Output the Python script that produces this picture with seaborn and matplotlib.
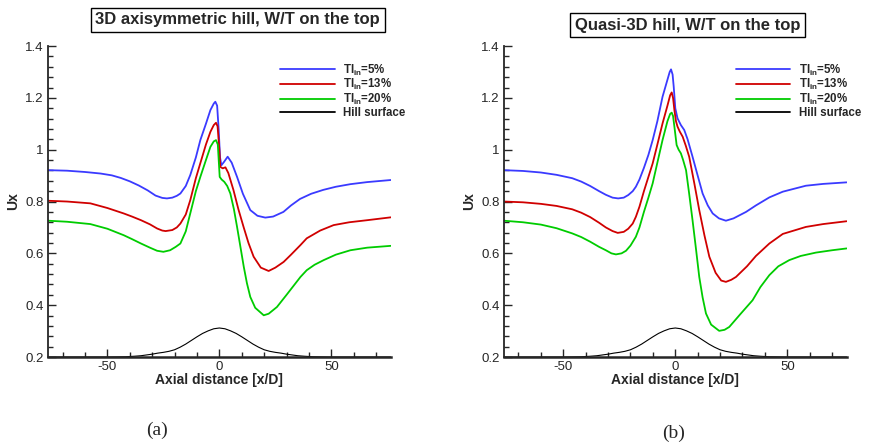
import numpy as np
import pandas as pd
import matplotlib
matplotlib.use("Agg")
import matplotlib.pyplot as plt
from matplotlib.ticker import MultipleLocator, FuncFormatter
import seaborn as sns

# ---- data ----
# (a) 3D axisymmetric hill
xa_ti5 = [-76.5, -68, -60, -53, -48, -44, -40, -36, -32, -28.5, -25.5, -23.4, -21, -19, -17.4, -15, -13, -10.5,
          -8.5, -6, -4, -2.5, -1.8, -1, -0.3, 0.3, 0.9, 2, 3.7, 5.5, 7.9, 10.5, 13.8, 17, 20.5, 24, 28.6, 32, 36, 41,
          46.4, 52, 58.5, 66, 76.5]
ya_ti5 = [0.921, 0.919, 0.914, 0.908, 0.901, 0.891, 0.878, 0.862, 0.843, 0.823, 0.814, 0.812, 0.815, 0.822, 0.831,
          0.86, 0.902, 0.97, 1.037, 1.10, 1.153, 1.178, 1.185, 1.17, 1.076, 0.97, 0.94, 0.952, 0.973, 0.95, 0.895,
          0.83, 0.767, 0.745, 0.738, 0.742, 0.76, 0.785, 0.81, 0.83, 0.845, 0.857, 0.867, 0.875, 0.883]

xa_ti13 = [-76.5, -68, -57.6, -50, -42.7, -39, -35, -31, -27.8, -25.5, -24, -21, -19, -17.4, -15, -13, -10.5, -8.5,
           -6, -4, -2.5, -1.5, -0.8, 0, 0.4, 1.5, 2.7, 4, 6.3, 8.5, 10.8, 13, 15.3, 18.5, 22, 25, 28.7, 32, 36.2, 39,
           45, 51, 58, 66, 76.5]
ya_ti13 = [0.803, 0.80, 0.793, 0.775, 0.754, 0.742, 0.728, 0.712, 0.696, 0.688, 0.686, 0.69, 0.70, 0.715, 0.75,
           0.805, 0.89, 0.948, 1.02, 1.069, 1.095, 1.104, 1.09, 1.0, 0.934, 0.928, 0.932, 0.91, 0.844, 0.77, 0.702,
           0.64, 0.587, 0.545, 0.532, 0.545, 0.567, 0.595, 0.632, 0.658, 0.688, 0.709, 0.72, 0.728, 0.739]

xa_ti20 = [-76.5, -68, -57.6, -50, -42.7, -39, -35, -31, -27.8, -25, -22, -19.5, -17.4, -15, -13, -10.5, -8.5, -6,
           -4, -2.5, -1.5, -0.7, 0.15, 1, 2.2, 3.5, 4.9, 6.5, 7.9, 9.5, 10.9, 12.3, 13.8, 16, 19.8, 22, 25.7, 30,
           36.2, 39, 42.5, 46.6, 52, 58.5, 66, 76.5]
ya_ti20 = [0.726, 0.722, 0.713, 0.695, 0.67, 0.655, 0.638, 0.622, 0.61, 0.606, 0.612, 0.625, 0.638, 0.685, 0.754,
           0.84, 0.895, 0.96, 1.011, 1.032, 1.037, 1.02, 0.895, 0.885, 0.876, 0.86, 0.831, 0.77, 0.702, 0.62, 0.548,
           0.485, 0.432, 0.39, 0.361, 0.367, 0.393, 0.44, 0.509, 0.535, 0.556, 0.574, 0.595, 0.612, 0.622, 0.629]

# (b) Quasi-3D hill
xb_ti5 = [-76.5, -68, -60, -53, -46, -42, -38, -34, -31, -28, -25.5, -23, -21, -19, -17.6, -16, -14, -12, -10.1, -8,
          -5.7, -3.5, -2.5, -1.9, -1.2, -0.7, 0, 1, 2.5, 4, 5.5, 7.7, 10, 12.2, 14.5, 16.7, 19.5, 22.6, 26, 31.6, 36,
          42, 48, 58.3, 66, 76.5]
yb_ti5 = [0.921, 0.918, 0.912, 0.903, 0.89, 0.877, 0.86, 0.84, 0.826, 0.815, 0.812, 0.815, 0.825, 0.84, 0.857,
          0.885, 0.93, 0.98, 1.037, 1.11, 1.204, 1.27, 1.30, 1.31, 1.29, 1.243, 1.16, 1.121, 1.095, 1.076, 1.04,
          0.973, 0.9, 0.831, 0.785, 0.754, 0.735, 0.726, 0.735, 0.76, 0.785, 0.816, 0.838, 0.861, 0.868, 0.874]

xb_ti13 = [-76.5, -68, -60, -53, -46, -42, -38, -34, -31, -28, -25.7, -23, -21, -19, -17.6, -16, -14, -12, -10.1, -8,
           -5.7, -3.5, -2.3, -1.6, -1, -0.4, 0.3, 1, 2, 3.3, 4.7, 6.2, 8.5, 10.7, 13, 15.2, 18, 20.5, 22.6, 25, 27.1,
           32, 36, 42, 48, 58.3, 66, 76.5]
yb_ti13 = [0.80, 0.797, 0.791, 0.783, 0.77, 0.757, 0.74, 0.718, 0.70, 0.686, 0.679, 0.683, 0.695, 0.715, 0.741,
           0.78, 0.84, 0.895, 0.947, 1.02, 1.101, 1.17, 1.21, 1.221, 1.20, 1.153, 1.11, 1.089, 1.07, 1.05, 1.015,
           0.973, 0.87, 0.767, 0.67, 0.587, 0.525, 0.495, 0.49, 0.498, 0.509, 0.55, 0.59, 0.638, 0.675, 0.702, 0.713,
           0.724]

xb_ti20 = [-76.5, -68, -60, -53, -46, -42, -38, -34, -31, -28.5, -26.5, -24, -22, -20, -17.6, -16, -14, -12, -10.1,
           -8, -5.7, -3.5, -2.3, -1.6, -1, -0.4, 0.6, 1.5, 2.5, 3.5, 4.8, 6.2, 7.7, 9.2, 10.7, 12.2, 13.7, 16, 19.6,
           22, 24.1, 29, 34.5, 38, 42, 46, 50.9, 56, 62.8, 70, 76.5]
yb_ti20 = [0.726, 0.72, 0.711, 0.697, 0.677, 0.663, 0.645, 0.625, 0.612, 0.60, 0.596, 0.60, 0.61, 0.63, 0.664, 0.70,
           0.76, 0.815, 0.87, 0.95, 1.037, 1.11, 1.138, 1.143, 1.13, 1.089, 1.018, 1.0, 0.986, 0.96, 0.921, 0.83,
           0.728, 0.62, 0.509, 0.43, 0.368, 0.325, 0.301, 0.305, 0.316, 0.365, 0.419, 0.47, 0.516, 0.55, 0.574, 0.59,
           0.603, 0.612, 0.619]

# hill surface (same in both panels)
x_hill = [-76.5, -50, -42, -38, -35, -32.5, -30, -27.5, -25, -22.5, -20, -17.5, -15, -12.5, -10, -7.5, -5, -2.5, 0,
          2.5, 5, 7.5, 10, 12.5, 15, 17.5, 20, 22.5, 25, 27.5, 30, 32.5, 35, 38, 42, 50, 76.5]
y_hill = [0.2, 0.2, 0.201, 0.203, 0.205, 0.208, 0.211, 0.215, 0.218, 0.222, 0.228, 0.238, 0.25, 0.264, 0.278, 0.291,
          0.301, 0.309, 0.312, 0.309, 0.301, 0.291, 0.278, 0.264, 0.25, 0.238, 0.228, 0.222, 0.218, 0.215, 0.211,
          0.208, 0.205, 0.203, 0.201, 0.2, 0.2]

labels = ["TI$_{in}$=5%", "TI$_{in}$=13%", "TI$_{in}$=20%", "Hill surface"]
colors = ["#3a3aff", "#d00000", "#00cc00", "black"]

panels = [
    ("3D axisymmetric hill, W/T on the top", "(a)",
     [(xa_ti5, ya_ti5), (xa_ti13, ya_ti13), (xa_ti20, ya_ti20), (x_hill, y_hill)]),
    ("Quasi-3D hill, W/T on the top", "(b)",
     [(xb_ti5, yb_ti5), (xb_ti13, yb_ti13), (xb_ti20, yb_ti20), (x_hill, y_hill)]),
]

sns.set_style("ticks")
plt.rcParams["font.family"] = ["Liberation Sans", "DejaVu Sans"]
plt.rcParams["mathtext.fontset"] = "custom"
plt.rcParams["mathtext.rm"] = "Liberation Sans:bold"
plt.rcParams["mathtext.it"] = "Liberation Sans:bold"
plt.rcParams["mathtext.default"] = "rm"

fig = plt.figure(figsize=(8.81, 4.47), dpi=100)
ax_pos = [[0.0545, 0.2013, 0.389, 0.6957], [0.572, 0.2013, 0.389, 0.6957]]
title_pos = [(0.27, 0.956), (0.7805, 0.944)]
tag_pos = [(0.178, 0.038), (0.765, 0.031)]

for i, (title, tag, series) in enumerate(panels):
    ax = fig.add_axes(ax_pos[i])
    for (xs, ys), lab, col in zip(series, labels, colors):
        df = pd.DataFrame({"x": xs, "y": ys})
        lw = 0.8 if lab == "Hill surface" else 1.3
        sns.lineplot(data=df, x="x", y="y", ax=ax, color=col, lw=lw, label=lab,
                     estimator=None, sort=False)
    ax.set_xlim(-76.5, 76.5)
    ax.set_ylim(0.2, 1.4)
    ax.xaxis.set_major_locator(MultipleLocator(50))
    ax.xaxis.set_minor_locator(MultipleLocator(10))
    ax.yaxis.set_major_locator(MultipleLocator(0.2))
    ax.yaxis.set_minor_locator(MultipleLocator(0.04))
    ax.yaxis.set_major_formatter(FuncFormatter(lambda v, p: f"{v:g}"))
    ax.xaxis.set_major_formatter(FuncFormatter(lambda v, p: f"{v:g}"))
    ax.tick_params(which="major", direction="in", length=6, width=1, labelsize=9.5, pad=3)
    ax.tick_params(which="minor", direction="in", length=3.5, width=1)
    for s in ["top", "right"]:
        ax.spines[s].set_visible(False)
    ax.spines["left"].set_linewidth(1.3)
    ax.spines["bottom"].set_linewidth(1.8)
    ax.set_xlabel("Axial distance [x/D]", fontsize=10, fontweight="bold", labelpad=0)
    ax.set_ylabel("Ux", fontsize=10, fontweight="bold", labelpad=4)
    leg = ax.legend(loc="upper left", bbox_to_anchor=(0.678, 0.947), frameon=False,
                    handlelength=4.7, labelspacing=-0.03, handletextpad=0.7, borderaxespad=0,
                    borderpad=0, prop={"weight": "bold", "size": 8.3})
    for line in leg.get_lines():
        line.set_linewidth(1.3)
    fig.text(title_pos[i][0], title_pos[i][1], title, ha="center", va="center",
             fontsize=12, fontweight="bold",
             bbox=dict(boxstyle="square,pad=0.28", fc="white", ec="black", lw=1))
    fig.text(tag_pos[i][0], tag_pos[i][1], tag, ha="center", va="center",
             fontsize=14, family=["Liberation Serif", "DejaVu Serif"])

fig.savefig("out.png", dpi=100)
